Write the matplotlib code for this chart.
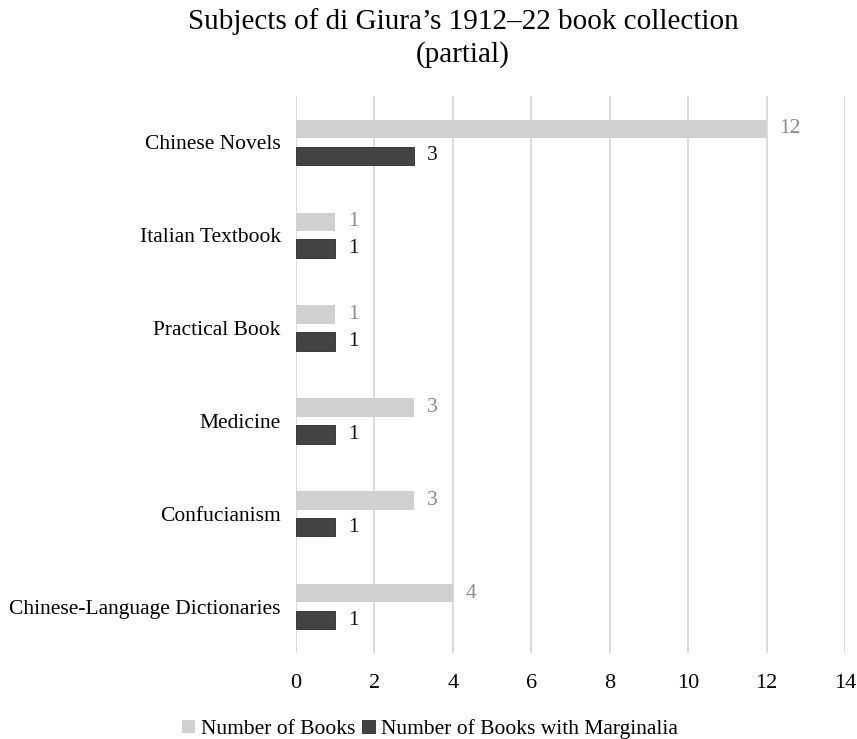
import numpy as np
from matplotlib import pyplot as plt

plt.rcParams['font.family'] = ['Liberation Serif', 'DejaVu Serif']

categories = ['Chinese Novels', 'Italian Textbook', 'Practical Book',
              'Medicine', 'Confucianism', 'Chinese-Language Dictionaries']
books = [12, 1, 1, 3, 3, 4]
marginalia = [3, 1, 1, 1, 1, 1]
x_ticks = [0, 2, 4, 6, 8, 10, 12, 14]

LIGHT = '#d0d0d0'
DARK = '#434343'

fig = plt.figure(figsize=(8.57, 7.39), dpi=100)
ax = fig.add_axes([296 / 857, 1 - 653 / 739, 549 / 857, 557 / 739])

y = np.arange(len(categories))
h = 0.2
off = 0.145
b1 = ax.barh(y - off, books, height=h, color=LIGHT, label='Number of Books', zorder=3)
b2 = ax.barh(y + off, marginalia, height=h, color=DARK, edgecolor='#2a2a2a',
             linewidth=0.6, label='Number of Books with Marginalia', zorder=3)

for rect, v in zip(b1, books):
    ax.text(rect.get_width() + 0.33, rect.get_y() + rect.get_height() / 2, str(v),
            va='center', ha='left', fontsize=15.5, color='#8a8a8a')
for rect, v in zip(b2, marginalia):
    ax.text(rect.get_width() + 0.33, rect.get_y() + rect.get_height() / 2, str(v),
            va='center', ha='left', fontsize=15.5, color='#111111')

ax.set_xlim(0, 14)
ax.set_ylim(len(categories) - 0.5, -0.5)
ax.set_xticks(x_ticks)
ax.set_yticks(y)
ax.set_yticklabels(categories, fontsize=15.5)
ax.tick_params(axis='x', labelsize=16, length=0, pad=15)
ax.tick_params(axis='y', length=0, pad=11)
ax.grid(axis='x', color='#d4d4d4', linewidth=1.2, zorder=0)
for s in ax.spines.values():
    s.set_visible(False)

fig.text(463 / 857, 1 - 38 / 739,
         'Subjects of di Giura\u2019s 1912\u201322 book collection\n(partial)',
         fontsize=21, ha='center', va='center', linespacing=1.32)

fig.legend(handles=[b1, b2], loc='center', bbox_to_anchor=(430 / 857, 1 - 729 / 739),
           ncol=2, frameon=False, fontsize=15.5, handlelength=0.6, handleheight=0.6,
           handletextpad=0.3, columnspacing=0.3)

fig.savefig('out.png', dpi=100)
